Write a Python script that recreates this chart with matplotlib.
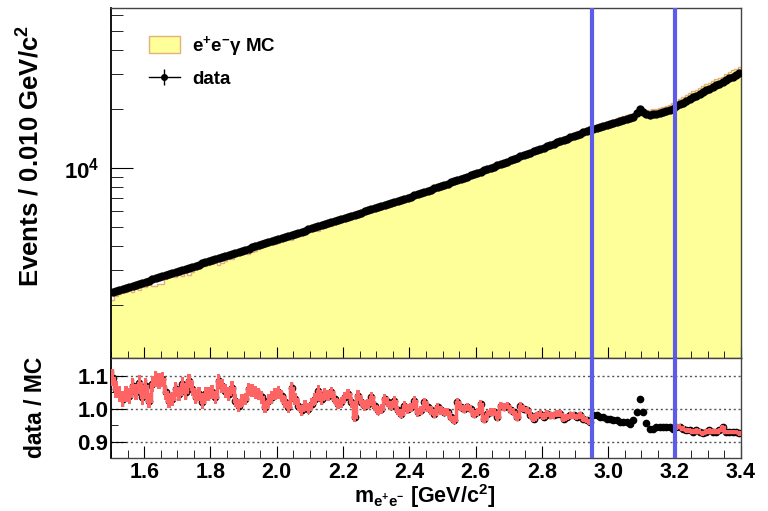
import numpy as np
import matplotlib
matplotlib.use('Agg')
import matplotlib.pyplot as plt
from matplotlib.lines import Line2D
from matplotlib.patches import Patch
from matplotlib.ticker import FixedLocator, MultipleLocator, NullFormatter, FixedFormatter, FormatStrFormatter

plt.rcParams['font.family'] = ['Liberation Sans', 'DejaVu Sans']
plt.rcParams['font.weight'] = 'bold'
plt.rcParams['mathtext.fontset'] = 'custom'
plt.rcParams['mathtext.rm'] = 'Liberation Sans:bold'
plt.rcParams['mathtext.it'] = 'Liberation Sans:italic:bold'
plt.rcParams['mathtext.bf'] = 'Liberation Sans:bold'
plt.rcParams['mathtext.sf'] = 'Liberation Sans:bold'

# binning: 1.5 - 3.4 GeV/c^2, 0.010 GeV/c^2 per bin
m_lo, m_hi, n_bins = 1.5, 3.4, 190
jpsi_window = (2.95, 3.20)

# data events per bin
data_counts = np.array([
    2316, 2345, 2375, 2405, 2435, 2466, 2497, 2529, 2561, 2593,
    2626, 2659, 2693, 2727, 2761, 2796, 2831, 2867, 2903, 2940,
    2977, 3015, 3053, 3091, 3130, 3170, 3210, 3251, 3292, 3333,
    3375, 3418, 3461, 3505, 3549, 3594, 3639, 3685, 3732, 3779,
    3826, 3874, 3923, 3973, 4023, 4074, 4125, 4177, 4230, 4283,
    4337, 4391, 4446, 4502, 4558, 4615, 4673, 4731, 4790, 4850,
    4911, 4972, 5034, 5097, 5161, 5226, 5291, 5357, 5424, 5492,
    5561, 5631, 5701, 5772, 5844, 5917, 5991, 6066, 6142, 6219,
    6297, 6376, 6456, 6536, 6618, 6701, 6785, 6870, 6956, 7043,
    7138, 7237, 7338, 7440, 7543, 7648, 7755, 7862, 7972, 8083,
    8195, 8309, 8425, 8542, 8661, 8781, 8903, 9027, 9152, 9280,
    9414, 9556, 9700, 9846, 9995, 10146, 10299, 10454, 10612, 10772,
    10934, 11099, 11266, 11436, 11609, 11784, 11962, 12142, 12325, 12511,
    12699, 12891, 13085, 13283, 13483, 13686, 13893, 14102, 14315, 14531,
    14749, 14972, 15198, 15427, 15659, 15868, 16052, 16238, 16426, 16616,
    16808, 17003, 17200, 17399, 17600, 17804, 18010, 18219, 19060, 19980,
    19300, 18760, 18520, 18734, 18951, 19170, 19392, 19617, 19844, 20074,
    20700, 21124, 21557, 21999, 22450, 22911, 23380, 23860, 24349, 24848,
    25357, 25877, 26407, 26949, 27501, 28065, 28640, 29227, 29826, 30438,
], dtype=float)

# data / MC per bin
ratio = np.array([
    1.095, 1.06, 1.045, 1.03, 1.045, 1.04, 1.07, 1.05, 1.08, 1.035,
    1.07, 1.025, 1.075, 1.09, 1.085, 1.09, 1.05, 1.025, 1.03, 1.06,
    1.045, 1.075, 1.05, 1.085, 1.06, 1.035, 1.045, 1.02, 1.045, 1.045,
    1.05, 1.035, 1.085, 1.07, 1.055, 1.045, 1.065, 1.025, 1.01, 1.025,
    1.03, 1.06, 1.055, 1.05, 1.045, 1.035, 1.005, 1.025, 1.035, 1.045,
    1.05, 1.04, 1.02, 1.005, 1.065, 1.03, 1.01, 0.995, 1.01, 1.0,
    1.015, 1.03, 1.055, 1.03,
    1.045, 1.04, 1.05, 1.03, 1.015, 1.02, 1.035, 1.045, 1.02, 0.975,
    1.04, 1.02, 1.01, 1.015, 1.035, 1.01, 0.995, 1.0, 1.03, 1.02,
    1.01, 1.025, 0.995, 0.985, 1.01, 1.0, 1.005, 1.025, 0.99, 0.995,
    1.02, 1.005, 0.995, 0.985, 1.005, 0.995, 0.99, 0.99, 0.975, 0.965,
    1.02, 1.005, 1.0, 1.005, 1.0, 0.985, 0.99, 1.015, 0.97, 0.985,
    0.99, 0.99, 0.975, 1.01, 1.005, 1.01, 0.995, 0.99, 0.975, 1.01,
    1.0, 0.995, 0.98, 0.97,
    0.98, 0.985, 0.975, 0.985, 0.98, 0.98, 0.985, 0.985, 0.97, 0.975,
    0.98, 0.98, 0.975, 0.98, 0.97, 0.965, 0.96, 0.98, 0.98, 0.975,
    0.975, 0.97, 0.97, 0.965, 0.965, 0.96, 0.96, 0.96, 0.955, 0.965,
    0.99, 1.03, 0.99, 0.957, 0.94, 0.94, 0.945, 0.945, 0.945, 0.945,
    0.945, 0.94, 0.945, 0.945, 0.94, 0.935, 0.935, 0.93, 0.935, 0.93,
    0.925, 0.93, 0.935, 0.93, 0.93, 0.935, 0.945, 0.93, 0.93, 0.93,
    0.93, 0.925,
])

edges = np.linspace(m_lo, m_hi, n_bins + 1)
centers = 0.5 * (edges[:-1] + edges[1:])
mc_counts = data_counts / ratio
ratio_err = np.sqrt(data_counts) / mc_counts
band_err = 1.2 * np.sqrt(mc_counts) / mc_counts

fill_col = '#ffff99'
edge_col = '#e2b27a'
blue = '#5c5ce8'
red = '#ff6464'

fig = plt.figure(figsize=(7.68, 5.11), dpi=100)
ax1 = fig.add_axes([0.1445, 0.2994, 0.8203, 0.6849])
ax2 = fig.add_axes([0.1445, 0.1037, 0.8203, 0.1957])

# top: spectrum
ax1.stairs(mc_counts, edges, baseline=300, fill=True, facecolor=fill_col,
           edgecolor='none', zorder=1)
ax1.stairs(mc_counts, edges, baseline=None, color=edge_col, lw=1.0, zorder=2)
ax1.errorbar(centers, data_counts, yerr=np.sqrt(data_counts), fmt='o', color='k',
             ms=5, elinewidth=1, capsize=0, zorder=3)
ax1.set_yscale('log')
ax1.set_xlim(m_lo, m_hi)
ax1.set_ylim(1070, 65500)

# bottom: ratio
for v in (0.9, 1.0, 1.1):
    ax2.axhline(v, color='#555555', lw=1, ls=(0, (1.5, 2.0)), zorder=1)
ax2.errorbar(centers, ratio, yerr=ratio_err, fmt='o', color='k', ms=4.5,
             elinewidth=1, capsize=0, zorder=2)
outside = (edges[1:] <= jpsi_window[0] + 1e-9) | (edges[:-1] >= jpsi_window[1] - 1e-9)
idx = np.where(outside)[0]
segments = np.split(idx, np.where(np.diff(idx) > 1)[0] + 1)
for seg in segments:
    a, b = seg[0], seg[-1] + 1
    ax2.stairs(ratio[a:b] + band_err[a:b], edges[a:b + 1], baseline=ratio[a:b] - band_err[a:b],
               fill=True, color=red, zorder=3)
    ax2.stairs(ratio[a:b], edges[a:b + 1], baseline=None, color=red, lw=2.5, zorder=3)
ax2.set_xlim(m_lo, m_hi)
ax2.set_ylim(0.85, 1.155)

for ax in (ax1, ax2):
    for xv in jpsi_window:
        ax.axvline(xv, color=blue, lw=3, zorder=5)
    ax.xaxis.set_major_locator(MultipleLocator(0.2))
    ax.xaxis.set_minor_locator(MultipleLocator(0.05))
    for s in ax.spines.values():
        s.set_color('#444444')
        s.set_linewidth(1.0)
    ax.spines['left'].set_color('black')
    ax.spines['left'].set_linewidth(1.3)

# ticks
ax1.yaxis.set_major_locator(FixedLocator([1e4]))
ax1.yaxis.set_major_formatter(FixedFormatter([r'$\mathregular{10^{4}}$']))
ax1.yaxis.set_minor_locator(FixedLocator([k * 1e3 for k in range(2, 10)] + [k * 1e4 for k in range(2, 7)]))
ax1.yaxis.set_minor_formatter(NullFormatter())
ax1.tick_params(axis='x', which='both', direction='in', labelbottom=False, top=False)
ax1.tick_params(axis='x', which='major', length=8)
ax1.tick_params(axis='x', which='minor', length=5)
ax1.tick_params(axis='y', which='both', direction='in', right=False, labelsize=16, pad=8)
ax1.tick_params(axis='y', which='major', length=16)
ax1.tick_params(axis='y', which='minor', length=8.5)

ax2.yaxis.set_major_locator(FixedLocator([0.9, 1.0, 1.1]))
ax2.yaxis.set_major_formatter(FormatStrFormatter('%.1f'))
ax2.yaxis.set_minor_locator(FixedLocator([0.95, 1.05]))
ax2.xaxis.set_major_formatter(FormatStrFormatter('%.1f'))
ax2.tick_params(axis='x', which='both', direction='in', top=False, labelsize=15.5, pad=3)
ax2.tick_params(axis='x', which='major', length=8.5)
ax2.tick_params(axis='x', which='minor', length=5.5)
ax2.tick_params(axis='y', which='both', direction='in', right=False, labelsize=16, pad=2)
ax2.tick_params(axis='y', which='major', length=11)
ax2.tick_params(axis='y', which='minor', length=5)

# labels
ax1.set_ylabel(r'Events / 0.010 GeV/c$^{2}$', fontsize=18.5, fontweight='bold')
ax1.yaxis.set_label_coords(-0.106, 0.577)
ax2.set_ylabel('data / MC', fontsize=16.5, fontweight='bold')
ax2.yaxis.set_label_coords(-0.102, 0.51)
fig.text(0.553, 0.0157, r'm$_{\mathregular{e^{+}e^{-}}}$ [GeV/c$^{2}$]', fontsize=15.5,
         fontweight='bold', ha='center', va='baseline')

# legend
h_mc = Patch(facecolor=fill_col, edgecolor=edge_col, lw=1)
h_data = (Line2D([], [], color='k', lw=1, marker='|', ms=12, mew=1),
          Line2D([], [], color='k', ls='', marker='o', ms=4))
ax1.legend([h_mc, h_data], [r'e$^{+}$e$^{-}$γ MC', 'data'], loc='upper left',
           bbox_to_anchor=(0.06, 0.925), frameon=False, fontsize=13.5,
           handlelength=1.65, handleheight=1.0, handletextpad=0.65,
           labelspacing=0.6, borderpad=0, borderaxespad=0)

fig.savefig('out.png', dpi=100)
